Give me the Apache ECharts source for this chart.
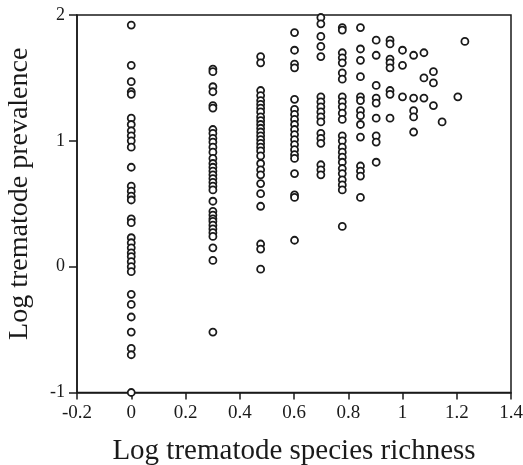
<!DOCTYPE html>
<html>
<head>
<meta charset="utf-8">
<script src="https://cdn.jsdelivr.net/npm/echarts@6/dist/echarts.min.js"></script>
<style>html,body{margin:0;padding:0;background:#fff;}#c{width:523px;height:465px;}</style>
</head>
<body>
<div id="c"></div>
<script>
// Log trematode species richness (x) for each column of points
const richness = [0, 0.301, 0.477, 0.602, 0.699, 0.778, 0.845, 0.903, 0.954, 1.0, 1.041, 1.079, 1.114, 1.146, 1.204, 1.230];
// Log trematode prevalence values (y) for each column
const prevR0 = [1.92, 1.60, 1.47, 1.39, 1.37, 1.18, 1.13, 1.08, 1.04, 1.00, 0.95, 0.79, 0.64, 0.60, 0.56, 0.53, 0.38, 0.35, 0.23, 0.19, 0.15, 0.11, 0.08, 0.04, 0.00, -0.04, -0.22, -0.30, -0.40, -0.52, -0.65, -0.70, -1.00];
const prevR1 = [1.57, 1.55, 1.43, 1.39, 1.28, 1.26, 1.09, 1.06, 1.02, 0.99, 0.95, 0.91, 0.86, 0.82, 0.79, 0.76, 0.73, 0.70, 0.67, 0.64, 0.61, 0.52, 0.44, 0.41, 0.38, 0.36, 0.33, 0.30, 0.27, 0.24, 0.15, 0.05, -0.52];
const prevR2 = [1.67, 1.62, 1.40, 1.36, 1.32, 1.29, 1.26, 1.23, 1.19, 1.16, 1.13, 1.10, 1.07, 1.04, 1.01, 0.98, 0.95, 0.92, 0.88, 0.82, 0.77, 0.73, 0.66, 0.58, 0.48, 0.18, 0.14, -0.02];
const prevR3 = [1.86, 1.72, 1.61, 1.58, 1.33, 1.25, 1.21, 1.17, 1.13, 1.09, 1.05, 1.01, 0.97, 0.93, 0.89, 0.86, 0.74, 0.57, 0.55, 0.21];
const prevR4 = [1.98, 1.93, 1.83, 1.75, 1.67, 1.35, 1.31, 1.27, 1.23, 1.19, 1.15, 1.06, 1.02, 0.98, 0.81, 0.77, 0.73];
const prevR5 = [1.90, 1.88, 1.70, 1.66, 1.62, 1.54, 1.49, 1.35, 1.31, 1.27, 1.22, 1.17, 1.04, 1.00, 0.95, 0.91, 0.87, 0.83, 0.78, 0.74, 0.69, 0.65, 0.61, 0.32];
const prevR6 = [1.90, 1.73, 1.64, 1.51, 1.35, 1.32, 1.24, 1.20, 1.13, 1.03, 0.80, 0.76, 0.72, 0.55];
const prevR7 = [1.80, 1.68, 1.44, 1.34, 1.30, 1.18, 1.04, 0.99, 0.83];
const prevR8 = [1.80, 1.77, 1.65, 1.62, 1.58, 1.40, 1.37, 1.18];
const prevR9 = [1.72, 1.60, 1.35];
const prevR10 = [1.68, 1.34, 1.24, 1.19, 1.07];
const prevR11 = [1.70, 1.50, 1.34];
const prevR12 = [1.55, 1.46, 1.28];
const prevR13 = [1.15];
const prevR14 = [1.35];
const prevR15 = [1.79];
const xTicks = [-0.2, 0, 0.2, 0.4, 0.6, 0.8, 1, 1.2, 1.4];
const yTicks = [-1, 0, 1, 2];

const columns = [prevR0, prevR1, prevR2, prevR3, prevR4, prevR5, prevR6, prevR7, prevR8, prevR9, prevR10, prevR11, prevR12, prevR13, prevR14, prevR15];
const points = [];
columns.forEach((col, i) => col.forEach(v => points.push([richness[i], v])));

const serif = 'Liberation Serif';
const chart = echarts.init(document.getElementById('c'));
chart.setOption({
  animation: false,
  backgroundColor: '#fff',
  grid: { left: 77, right: 12, top: 15, bottom: 72.5, show: true, borderColor: '#1a1a1a', borderWidth: 1.5, backgroundColor: 'transparent', outerBoundsMode: 'none', containLabel: false },
  xAxis: {
    type: 'value', min: -0.2, max: 1.4, interval: 0.2,
    name: 'Log trematode species richness', nameLocation: 'middle', nameGap: 44,
    nameTextStyle: { fontFamily: serif, fontSize: 29, color: '#1a1a1a' },
    axisLine: { show: true, onZero: false, lineStyle: { color: '#1a1a1a', width: 1.5 } },
    axisTick: { show: true, inside: false, length: 7, lineStyle: { color: '#1a1a1a', width: 1.5 } },
    axisLabel: { fontFamily: serif, fontSize: 19, color: '#1a1a1a', margin: 11,
      formatter: v => { const t = xTicks.find(k => Math.abs(k - v) < 1e-6); return t === undefined ? '' : String(t); } },
    splitLine: { show: false }
  },
  yAxis: {
    type: 'value', min: -1, max: 2, interval: 1,
    name: 'Log trematode prevalence', nameLocation: 'middle', nameGap: 43,
    nameTextStyle: { fontFamily: serif, fontSize: 28, color: '#1a1a1a', padding: [0, 0, 0, 20] },
    axisLine: { show: true, onZero: false, lineStyle: { color: '#1a1a1a', width: 1.5 } },
    axisTick: { show: true, inside: false, length: 8, lineStyle: { color: '#1a1a1a', width: 1.5 } },
    axisLabel: { fontFamily: serif, fontSize: 18, color: '#1a1a1a', margin: 12,
      formatter: v => { const t = yTicks.find(k => Math.abs(k - v) < 1e-6); return t === undefined ? '' : String(t); } },
    splitLine: { show: false }
  },
  series: [{
    type: 'scatter',
    data: points,
    symbol: 'circle',
    symbolSize: 7,
    itemStyle: { color: '#fff', borderColor: '#1a1a1a', borderWidth: 1.8, opacity: 1 },
    clip: false
  }]
});
</script>
</body>
</html>
